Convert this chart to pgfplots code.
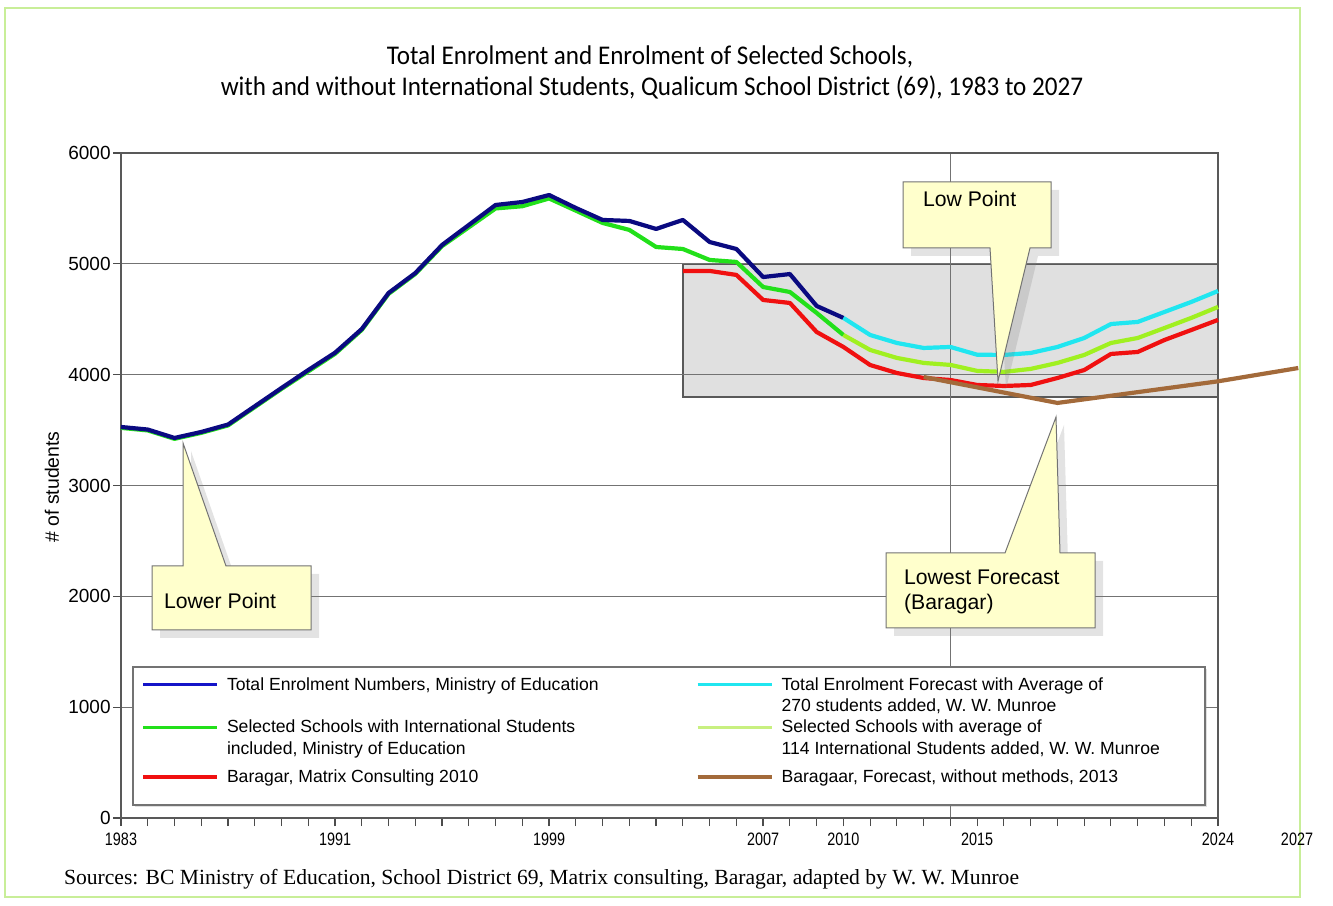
\documentclass[border=0pt]{standalone}
\usepackage{fontspec}
\setmainfont{Liberation Sans}
\newfontfamily\titlefont[FakeStretch=0.93]{Carlito}
\newfontfamily\tickfont[FakeStretch=0.8]{Liberation Sans}
\newfontfamily\srcfont{Liberation Serif}
\usepackage{pgfplots}
\pgfplotsset{compat=1.18}
\usetikzlibrary{shadows}

\definecolor{cNavy}{HTML}{0A0A80}
\definecolor{cLegBlue}{HTML}{1414C8}
\definecolor{cGreen}{HTML}{22E01A}
\definecolor{cRed}{HTML}{F01010}
\definecolor{cCyan}{HTML}{20E6F0}
\definecolor{cLime}{HTML}{A0F020}
\definecolor{cLegLime}{HTML}{C8F080}
\definecolor{cBrown}{HTML}{A36A3A}
\definecolor{cCall}{HTML}{FFFFCC}
\definecolor{cFrame}{HTML}{C8EE98}
\definecolor{cBox}{HTML}{E0E0E0}

\pgfplotstableread{
year total
1983 3528
1984 3505
1985 3429
1986 3483
1987 3550
1988 3715
1989 3880
1990 4042
1991 4198
1992 4412
1993 4737
1994 4917
1995 5170
1996 5351
1997 5531
1998 5558
1999 5621
2000 5504
2001 5396
2002 5387
2003 5315
2004 5396
2005 5197
2006 5134
2007 4881
2008 4908
2009 4620
2010 4512
}\totaltab

\pgfplotstableread{
year sel
1983 3520
1984 3497
1985 3421
1986 3475
1987 3542
1988 3707
1989 3872
1990 4030
1991 4188
1992 4404
1993 4729
1994 4909
1995 5160
1996 5330
1997 5500
1998 5520
1999 5590
2000 5480
2001 5369
2002 5306
2003 5152
2004 5134
2005 5035
2006 5017
2007 4791
2008 4746
2009 4557
2010 4358
}\seltab

\pgfplotstableread{
year bar
2004 4936
2005 4936
2006 4900
2007 4674
2008 4647
2009 4385
2010 4250
2011 4087
2012 4015
2013 3970
2014 3952
2015 3907
2016 3898
2017 3907
2018 3970
2019 4042
2020 4187
2021 4205
2022 4313
2023 4403
2024 4494
}\bartab

\pgfplotstableread{
year fc
2010 4512
2011 4358
2012 4286
2013 4241
2014 4250
2015 4180
2016 4178
2017 4196
2018 4250
2019 4331
2020 4457
2021 4476
2022 4566
2023 4656
2024 4755
}\fctab

\pgfplotstableread{
year fs
2010 4358
2011 4223
2012 4151
2013 4106
2014 4088
2015 4034
2016 4025
2017 4052
2018 4106
2019 4178
2020 4286
2021 4331
2022 4421
2023 4512
2024 4611
}\fstab

\pgfplotstableread{
year bf
2013 3979
2018 3745
2024 3940
2027 4060
}\bftab

\begin{document}
\begin{tikzpicture}
\begin{axis}[
  set layers,
  at={(0,0)}, anchor=south west,
  scale only axis, width=548.5pt, height=332.5pt,
  xmin=1983, xmax=2024, ymin=0, ymax=6000,
  clip=false,
  axis line style={draw=black!65, line width=0.8pt},
  xtick={1983,1991,1999,2007,2010,2015,2024},
  minor xtick={1984,...,2023},
  ytick={0,1000,...,6000},
  tick pos=left,
  tick align=outside,
  major tick length=4pt, minor tick length=4pt,
  tick style={black!70, line width=0.6pt},
  ymajorgrids,
  grid style={black!55, line width=0.6pt},
  extra x ticks={2014}, extra x tick labels={},
  extra x tick style={grid=major, major tick length=0pt},
  xticklabel style={font=\tickfont\fontsize{9}{10}\selectfont},
  yticklabel style={font=\fontsize{9.5}{10}\selectfont, inner xsep=1pt},
  /pgf/number format/1000 sep={},
  /pgf/number format/assume math mode=true,
  legend columns=2,
  legend cell align=left,
  legend style={at={(0.01094,0.2271)}, anchor=north west,
    draw=none, fill=none,
    font=\fontsize{8.8}{10.6}\selectfont,
    inner xsep=4pt, inner ysep=3pt, row sep=9.5pt,
    cells={anchor=base west},
    /tikz/every even column/.append style={column sep=30.5pt}},
  legend image code/.code={\path[draw=none] (0pt,2.8pt) -- (40pt,2.8pt);\draw[#1, line width=1.6pt] (0pt,2.8pt) -- (37pt,2.8pt);},
]
\begin{pgfonlayer}{axis background}
\draw[fill=cBox, draw=black!65, line width=0.8pt] (axis cs:2004,3800) rectangle (axis cs:2024,5000);
\end{pgfonlayer}
\begin{pgfonlayer}{axis descriptions}
\draw[fill=white, draw=black!55, line width=0.6pt, drop shadow={shadow xshift=1.2pt, shadow yshift=-1.2pt, opacity=0.25}]
  (rel axis cs:0.01094,0.01955) rectangle (rel axis cs:0.98815,0.22707);
\end{pgfonlayer}

\addplot[forget plot, cRed, line width=2.1pt, line join=round] table[x=year, y=bar] {\bartab};
\addplot[forget plot, cGreen, line width=2.1pt, line join=round] table[x=year, y=sel] {\seltab};
\addplot[forget plot, cNavy, line width=2.1pt, line join=round] table[x=year, y=total] {\totaltab};
\addplot[forget plot, cLime, line width=2.1pt, line join=round] table[x=year, y=fs] {\fstab};
\addplot[forget plot, cCyan, line width=2.1pt, line join=round] table[x=year, y=fc] {\fctab};
\addplot[forget plot, cBrown, line width=2.1pt, line join=round] table[x=year, y=bf] {\bftab};

\addlegendimage{cLegBlue}
\addlegendentry{\parbox[t]{202pt}{\raggedright Total Enrolment Numbers, Ministry of Education}}
\addlegendimage{cCyan}
\addlegendentry{\parbox[t]{202pt}{\raggedright Total Enrolment Forecast with Average of\\270 students added, W. W. Munroe}}
\addlegendimage{cGreen}
\addlegendentry{\parbox[t]{202pt}{\raggedright Selected Schools with International Students\\included, Ministry of Education}}
\addlegendimage{cLegLime}
\addlegendentry{\parbox[t]{202pt}{\raggedright Selected Schools with average of\\114 International Students added, W. W. Munroe}}
\addlegendimage{cRed}
\addlegendentry{\parbox[t]{202pt}{\raggedright\rule{0pt}{9.9pt}Baragar, Matrix Consulting 2010}}
\addlegendimage{cBrown}
\addlegendentry{\parbox[t]{202pt}{\raggedright Baragaar, Forecast, without methods, 2013}}
\end{axis}

\begin{scope}[shift={(-60.5pt,409pt)}, x=0.5pt, y=-0.5pt]
\draw[cFrame, line width=1pt] (5,8) rectangle (1300,897);
\node[font=\titlefont\fontsize{13.5}{16}\selectfont] at (650,57) {Total Enrolment and Enrolment of Selected Schools,};
\node[font=\titlefont\fontsize{13.5}{16}\selectfont] at (652,88) {with and without International Students, Qualicum School District (69), 1983 to 2027};
\node[rotate=90, font=\fontsize{9.7}{11}\selectfont] at (52,487) {\# of students};
\node[font=\tickfont\fontsize{9}{10}\selectfont] at (1297,839) {2027};
\node[anchor=west, font=\srcfont\fontsize{10.8}{12}\selectfont] at (57,879) {Sources: BC Ministry of Education, School District 69, Matrix consulting, Baragar, adapted by W. W. Munroe};

\draw[fill=cCall, draw=black!55, line width=0.5pt, drop shadow={shadow xshift=4pt, shadow yshift=-4pt, opacity=0.22}]
  (903,182) -- (1051,182) -- (1051,248) -- (1030,248) -- (998,381) -- (990,248) -- (903,248) -- cycle;
\draw[fill=cCall, draw=black!55, line width=0.5pt, drop shadow={shadow xshift=4pt, shadow yshift=-4pt, opacity=0.22}]
  (152,566) -- (183,566) -- (183,443) -- (226,566) -- (311,566) -- (311,630) -- (152,630) -- cycle;
\draw[fill=cCall, draw=black!55, line width=0.5pt, drop shadow={shadow xshift=4pt, shadow yshift=-4pt, opacity=0.22}]
  (886,553) -- (1005,553) -- (1056,417) -- (1060,553) -- (1095,553) -- (1095,628) -- (886,628) -- cycle;
\node[anchor=west, font=\fontsize{10.6}{12}\selectfont] at (916,199) {Low Point};
\node[anchor=west, font=\fontsize{10.6}{12}\selectfont] at (157,601) {Lower Point};
\node[anchor=west, font=\fontsize{10.6}{12}\selectfont] at (897,577) {Lowest Forecast};
\node[anchor=west, font=\fontsize{10.6}{12}\selectfont] at (897,604) {(Baragar)};
\end{scope}
\pgfresetboundingbox
\path[use as bounding box] (-60.5pt,-43.5pt) rectangle (606pt,409pt);
\end{tikzpicture}
\end{document}
